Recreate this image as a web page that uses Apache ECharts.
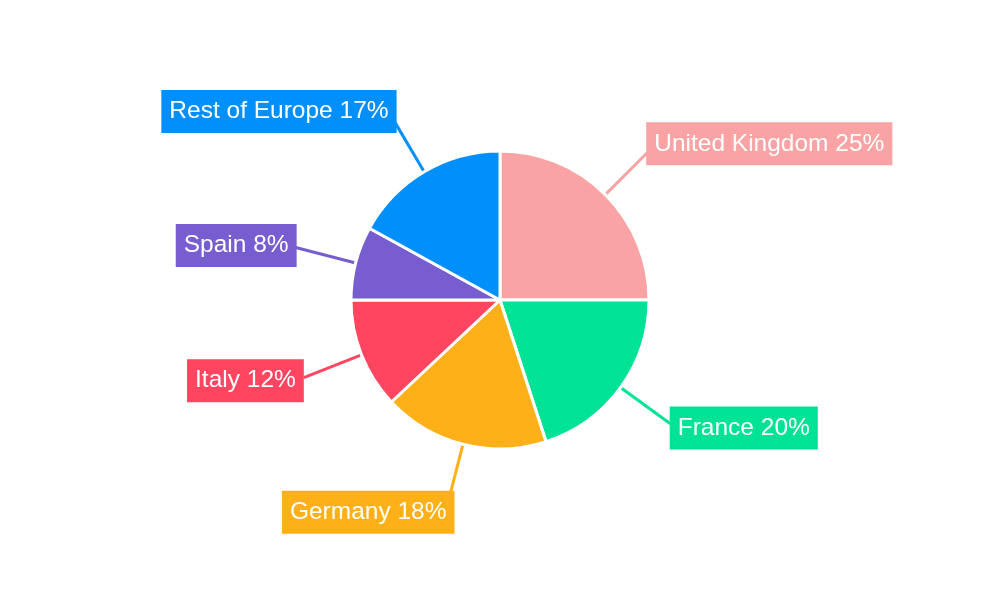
<!DOCTYPE html>
<html>
<head>
<meta charset="utf-8">
<script src="https://cdn.jsdelivr.net/npm/echarts@6/dist/echarts.min.js"></script>
<style>
  html, body { margin: 0; padding: 0; background: #fff; }
  #chart { width: 1000px; height: 600px; }
</style>
</head>
<body>
<div id="chart"></div>
<script>
// Market share by country, clockwise from 12 o'clock
const countries = ['United Kingdom', 'France', 'Germany', 'Italy', 'Spain', 'Rest of Europe'];
const shares = [25, 20, 18, 12, 8, 17];
const colors = ['#F9A3A4', '#00E396', '#FEB019', '#FF4560', '#775DD0', '#008FFB'];

// Small nudges of each label box away from its default spot; the leader line
// then re-attaches to the nearest point of the box.
const labelNudge = [[-8, -7], [-6, 4], [12, 8], [5, 3], [6, -2], [9, -7]];

const chart = echarts.init(document.getElementById('chart'), null, { renderer: 'canvas' });

chart.setOption({
  animation: false,
  series: [{
    type: 'pie',
    center: [500, 300],
    radius: 149,
    startAngle: 90,
    clockwise: true,
    itemStyle: { borderColor: '#fff', borderWidth: 3 },
    label: {
      show: true,
      formatter: (p) => `${p.name} ${p.value}%`,
      color: '#fff',
      fontFamily: 'Liberation Sans, Arial, sans-serif',
      fontSize: 24.5,
      lineHeight: 26,
      padding: [9, 8, 8, 8],
    },
    labelLine: {
      show: true,
      length: 62,
      length2: 0,
      smooth: false,
      lineStyle: { width: 3 },
    },
    labelLayout: (params) => {
      const [dx, dy] = labelNudge[params.dataIndex];
      return { dx, dy };
    },
    data: countries.map((name, i) => ({
      name,
      value: shares[i],
      itemStyle: { color: colors[i] },
      label: { backgroundColor: colors[i] },
    })),
  }],
});
</script>
</body>
</html>
